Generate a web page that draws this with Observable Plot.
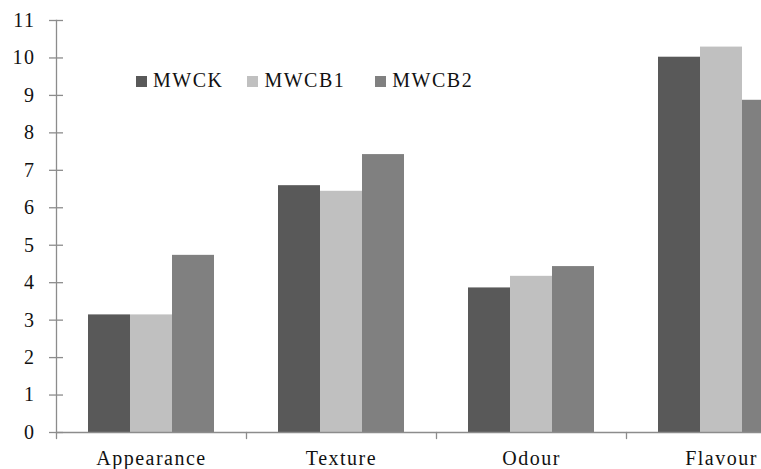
<!DOCTYPE html>
<html>
<head>
<meta charset="utf-8">
<script src="https://cdn.jsdelivr.net/npm/d3@7"></script>
<script src="https://cdn.jsdelivr.net/npm/@observablehq/plot@0.6"></script>
<style>
  html, body { margin: 0; padding: 0; background: #fff; overflow: hidden; }
  #wrap { position: relative; width: 761px; height: 469px; overflow: hidden; }
  #wrap svg { max-width: none !important; display: block; }
  #legend { position: absolute; left: 136px; top: 69px; display: flex; align-items: center;
    font-family: 'Liberation Serif', serif; font-size: 20px; letter-spacing: 1.5px; color: #111; }
  #legend .item { display: flex; align-items: center; }
  #legend .sw { width: 11px; height: 11px; margin-right: 6px; margin-top: 1px; }
</style>
</head>
<body>
<div id="wrap"><div id="legend"></div></div>
<script>
const categories = ["Appearance", "Texture", "Odour", "Flavour"];
const series = ["MWCK", "MWCB1", "MWCB2"];
const colors = ["#595959", "#c0c0c0", "#808080"];
const MWCK  = [3.14, 6.59, 3.86, 10.02];
const MWCB1 = [3.14, 6.44, 4.17, 10.29];
const MWCB2 = [4.73, 7.42, 4.43, 8.87];
const yTicks = [0, 1, 2, 3, 4, 5, 6, 7, 8, 9, 10, 11];

const valuesBySeries = {MWCK, MWCB1, MWCB2};
const data = [];
categories.forEach((c, i) => series.forEach(s => data.push({category: c, series: s, value: valuesBySeries[s][i]})));

const axisColor = "#8c8c8c";
const serifFont = "'Liberation Serif', serif";

const boundaryTick = {draw(context, l) { context.moveTo(0, 0); context.lineTo(0, -l); }};

const chart = Plot.plot({
  width: 817,
  height: 469,
  marginLeft: 55,
  marginRight: 0,
  marginTop: 20,
  marginBottom: 37,
  style: {fontFamily: serifFont, fontSize: "20px", color: "#111", maxWidth: "none", overflow: "visible"},
  fx: {domain: categories, padding: 0, label: null},
  x: {domain: series, paddingInner: 0, paddingOuter: 0.75, axis: null},
  y: {domain: [0, 11], label: null, axis: null},
  color: {domain: series, range: colors},
  marks: [
    Plot.barY(data, {fx: "category", x: "series", y: "value", fill: "series"}),
    Plot.ruleY([0], {stroke: axisColor, strokeWidth: 1.3}),
    Plot.frame({anchor: "left", facetAnchor: "left", stroke: axisColor, strokeWidth: 1.3}),
    Plot.vector(categories, {fx: d => d, frameAnchor: "bottom-left", length: 6, rotate: 180, anchor: "start",
      shape: boundaryTick, stroke: axisColor, strokeWidth: 1.3}),
    Plot.axisY({ticks: yTicks, tickSize: 7, tickPadding: 14, stroke: axisColor, strokeWidth: 1.3, label: null, fontSize: 20, tickFormat: d => String(d), fill: "#111"}),
    Plot.axisY({ticks: yTicks, tickSize: 7, dx: 7, text: null, stroke: axisColor, strokeWidth: 1.3, label: null}),
    Plot.axisFx({anchor: "bottom", tickSize: 0, tickPadding: 18, label: null, fontSize: 20, fill: "#111"})
  ]
});

chart.querySelectorAll("text").forEach(el => {
  el.style.setProperty("font-family", serifFont);
  el.style.setProperty("letter-spacing", "1.5px");
});
document.getElementById("wrap").prepend(chart);

const legend = document.getElementById("legend");
const gaps = [0, 24, 30];
series.forEach((s, i) => {
  const item = document.createElement("div");
  item.className = "item";
  item.style.marginLeft = gaps[i] + "px";
  const sw = document.createElement("span");
  sw.className = "sw";
  sw.style.background = colors[i];
  const t = document.createElement("span");
  t.textContent = s;
  item.append(sw, t);
  legend.append(item);
});
</script>
</body>
</html>
